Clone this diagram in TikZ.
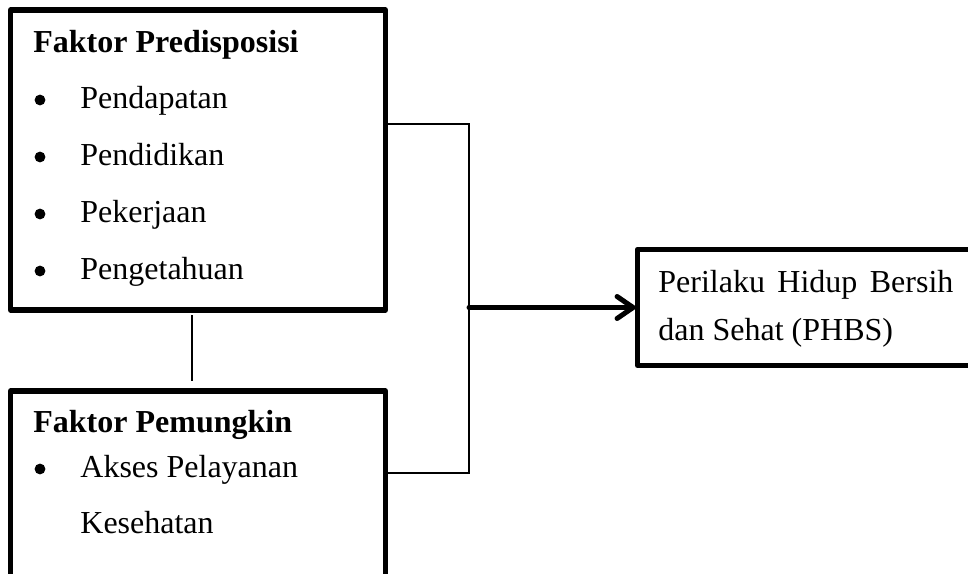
\documentclass[tikz,border=0pt]{standalone}
\usepackage{fontspec}
\setmainfont{Liberation Serif}
\usetikzlibrary{arrows.meta,positioning}

\begin{document}
\begin{tikzpicture}
        [x=0.5pt,y=-0.5pt,
         box/.style={draw, line width=2.6pt, line join=round, outer sep=0pt,
           inner sep=0pt, anchor=north west},
         txt/.style={anchor=base west, inner sep=0pt,
           font=\fontsize{16}{19}\selectfont},
         dot/.style={circle, fill, inner sep=0pt, minimum size=5.4pt},
         link/.style={line width=0.9pt},
         arrowline/.style={line width=2.5pt, line cap=round,
           -{Straight Barb[length=8pt,width=11pt,line cap=round]}}]
        \useasboundingbox (0,0) rectangle (968,573);
        \clip (0,0) rectangle (968,573);
        %\draw[help lines] (0,0) grid (968,573);
        % boxes
        \node[box, minimum width=187.5pt, minimum height=150pt] (pred) at (10.5,10) {};
        \node[box, minimum width=187.5pt, minimum height=125pt] (pemungkin) at (10.5,391) {};
        \node[box, minimum width=200pt, minimum height=58pt] (phbs) at (637.5,249.5) {};
        % texts
        \node[txt] (predtitle) at (33,52) {\textbf{Faktor Predisposisi}};
        \foreach \item [count=\i] in {Pendapatan,Pendidikan,Pekerjaan,Pengetahuan}{
          \node[dot] (bul\i) at (40,43+57*\i) {};
          \node[txt] (item\i) at (80,51+57*\i) {\item};
        }
        \node[txt] (pemtitle) at (33,432) {\textbf{Faktor Pemungkin}};
        \node[dot] (bul5) at (40,469) {};
        \node[txt] (item5) at (80,477) {Akses Pelayanan};
        \node[txt] (item6) at (80,533) {Kesehatan};
        \node[txt] (phbs1) at (658,292) {\makebox[147.5pt][s]{Perilaku Hidup Bersih}};
        \node[txt] (phbs2) at (658,340) {dan Sehat (PHBS)};
        % connectors
        \coordinate (j1) at (469,124);
        \coordinate (j2) at (469,473);
        \coordinate (j3) at (469,307.5);
        \coordinate (v) at (192,350);
        \draw[link] (pred.east |- j1) -- (j1) -- (j2) -- (pemungkin.east |- j2);
        \draw[link, shorten <=2.5pt, shorten >=5pt] (pred.south -| v) -- (pemungkin.north -| v);
        \draw[arrowline] (j3) -- (phbs.west);
      \end{tikzpicture}
\end{document}
